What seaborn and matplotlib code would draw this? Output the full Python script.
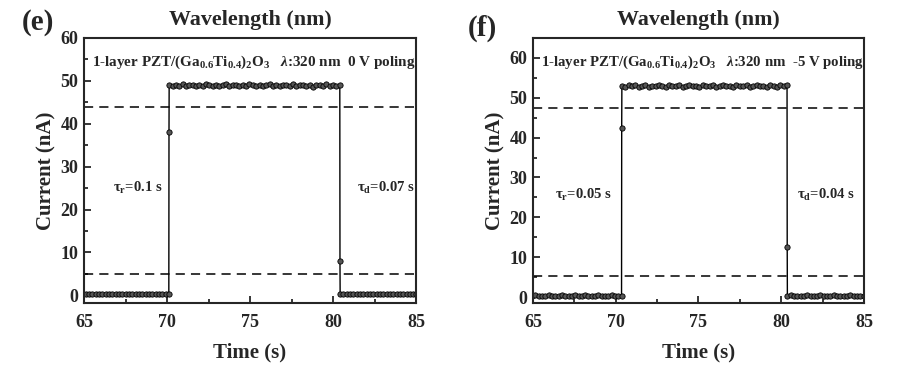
import numpy as np
import pandas as pd
import matplotlib
matplotlib.use("Agg")
import matplotlib.pyplot as plt
from matplotlib.ticker import MultipleLocator
import seaborn as sns

# ─── DATA ──────────────────────────────────────────────────────────────────────
# panel (e): 0 V poling
E_LOW1 = [0.3, 0.2, 0.4, 0.3, 0.3, 0.2, 0.4, 0.3, 0.3, 0.4, 0.2, 0.3, 0.3,
          0.4, 0.3, 0.2, 0.3, 0.4, 0.3, 0.3, 0.2, 0.4, 0.3, 0.3, 0.4, 0.3,
          0.3]
E_RISE = [38.0]
E_HIGH = [49.0, 48.8, 49.1, 48.9, 49.2, 48.7, 49.0, 49.1, 48.8, 49.0, 48.9,
          49.2, 49.0, 48.8, 49.1, 48.9, 49.0, 49.2, 48.7, 49.0, 49.1, 48.9,
          49.0, 48.8, 49.2, 49.0, 48.9, 49.1, 48.8, 49.0, 49.2, 48.9, 49.0,
          48.7, 49.1, 49.0, 48.9, 49.2, 48.8, 49.0, 49.1, 48.9, 49.0, 48.6,
          49.1, 49.0, 48.8, 49.2, 48.9, 49.0, 48.8, 49.1]
E_FALL = [8.0]
E_LOW2 = [0.4, 0.3, 0.3, 0.2, 0.4, 0.3, 0.3, 0.4, 0.2, 0.3, 0.3, 0.4,
          0.3, 0.2, 0.3, 0.4, 0.3, 0.3, 0.2, 0.4, 0.3, 0.3, 0.3, 0.3]
E_LEVELS = [44.0, 4.9]          # 90 % / 10 % guides

# panel (f): -5 V poling
F_LOW1 = [0.3, 0.4, 0.2, 0.3, 0.3, 0.4, 0.3, 0.2, 0.3, 0.4, 0.3, 0.3, 0.2,
          0.4, 0.3, 0.3, 0.4, 0.2, 0.3, 0.3, 0.4, 0.3, 0.2, 0.3, 0.4, 0.3,
          0.3, 0.3]
F_RISE = [42.5]
F_HIGH = [53.0, 52.8, 53.1, 52.9, 53.2, 52.8, 53.0, 53.1, 52.7, 53.0, 52.9,
          53.2, 53.0, 52.8, 53.1, 52.9, 53.0, 53.2, 52.8, 53.0, 53.1, 52.9,
          53.0, 52.7, 53.2, 53.0, 52.9, 53.1, 52.8, 53.0, 53.2, 52.9, 53.0,
          52.8, 53.1, 53.0, 52.9, 53.2, 52.8, 53.0, 53.1, 52.9, 53.0, 52.7,
          53.1, 53.0, 52.8, 53.2, 52.9, 53.1]
F_FALL = [12.5]
F_LOW2 = [0.3, 0.4, 0.3, 0.2, 0.3, 0.3, 0.4, 0.3, 0.2, 0.3, 0.4, 0.3,
          0.3, 0.2, 0.4, 0.3, 0.3, 0.3, 0.2, 0.4, 0.3, 0.3, 0.3, 0.3]
F_LEVELS = [47.5, 5.3]

# light on / light off instants (s) and sampling step
E_SWITCH = (70.12, 80.42)
F_SWITCH = (70.36, 80.36)
STEP = 0.2

PANELS = [
    dict(poling="0 V poling", low1=E_LOW1, rise=E_RISE, high=E_HIGH,
         fall=E_FALL, low2=E_LOW2, sw=E_SWITCH, levels=E_LEVELS,
         tr="0.1 s", td="0.07 s", ylim=(-1.8, 60), trx=66.75, tdx=81.45,
         ty=25.0, fs=10.9),
    dict(poling="-5 V poling", low1=F_LOW1, rise=F_RISE, high=F_HIGH,
         fall=F_FALL, low2=F_LOW2, sw=F_SWITCH, levels=F_LEVELS,
         tr="0.05 s", td="0.04 s", ylim=(-1.5, 65), trx=66.3, tdx=80.95,
         ty=25.6, fs=10.7),
]


def build_frame(p):
    t_on, t_off = p["sw"]
    n1, nh, n2 = len(p["low1"]), len(p["high"]), len(p["low2"])
    # plateau samples spread over the whole light-on window
    parts = [
        (t_on - 0.01 - STEP * np.arange(n1)[::-1], p["low1"]),
        (np.array([t_on]), p["rise"]),
        (np.linspace(t_on + 0.01, t_off - 0.01, nh), p["high"]),
        (np.array([t_off]), p["fall"]),
        (t_off + 0.01 + STEP * np.arange(n2), p["low2"]),
    ]
    time = np.concatenate([a for a, _ in parts])
    cur = np.concatenate([np.asarray(b, float) for _, b in parts])
    return pd.DataFrame({"time": time, "current": cur})


# ─── STYLE ─────────────────────────────────────────────────────────────────────
sns.set_theme(style="ticks")
plt.rcParams["font.family"] = ["Liberation Serif", "DejaVu Serif"]
plt.rcParams["font.weight"] = "bold"
plt.rcParams["mathtext.fontset"] = "custom"
plt.rcParams["mathtext.rm"] = "Liberation Serif:bold"
plt.rcParams["mathtext.it"] = "Liberation Serif:italic:bold"
plt.rcParams["mathtext.bf"] = "Liberation Serif:bold"
plt.rcParams["axes.linewidth"] = 1.5

fig = plt.figure(figsize=(9.04, 3.66), dpi=100)
axes = [fig.add_axes([84 / 904, 1 - 303 / 366, 332 / 904, 265 / 366]),
        fig.add_axes([533 / 904, 1 - 303 / 366, 331 / 904, 265 / 366])]

for ax, p in zip(axes, PANELS):
    df = build_frame(p)
    sns.lineplot(data=df, x="time", y="current", ax=ax, color="black",
                 linewidth=1.0, marker="o", markersize=3.8,
                 markerfacecolor="#555555", markeredgecolor="black",
                 markeredgewidth=0.6, sort=False, estimator=None)
    for lv in p["levels"]:
        ax.axhline(lv, color="black", linestyle=(0, (6, 4)), linewidth=1.1)

    ax.set_xlim(65, 85)
    ax.set_ylim(*p["ylim"])
    ax.xaxis.set_major_locator(MultipleLocator(5))
    ax.xaxis.set_minor_locator(MultipleLocator(2.5))
    ax.yaxis.set_major_locator(MultipleLocator(10))
    ax.yaxis.set_minor_locator(MultipleLocator(5))
    ax.tick_params(which="both", direction="in", width=1.3, labelsize=13,
                   top=False, right=False)
    ax.tick_params(which="major", length=5)
    ax.tick_params(which="minor", length=3)
    ax.tick_params(axis="x", pad=8)
    ax.tick_params(axis="y", pad=4)
    for lab in ax.get_xticklabels() + ax.get_yticklabels():
        lab.set_fontweight("bold")

    ax.set_xlabel("Time (s)", fontsize=15, fontweight="bold", labelpad=8)
    ax.set_ylabel("Current (nA)", fontsize=15, fontweight="bold", labelpad=3)
    ax.set_title("Wavelength (nm)", fontsize=15.8, fontweight="bold", pad=9)

    ax.text(0.025, 0.909,
            r"1-layer PZT/(Ga$_{0.6}$Ti$_{0.4}$)$_2$O$_3$   $\lambda$:320 nm  "
            + p["poling"],
            transform=ax.transAxes, fontsize=p["fs"], fontweight="bold",
            va="center", ha="left")
    ax.text(p["trx"], p["ty"], r"τ$_{\rm r}$=" + p["tr"], fontsize=10.5,
            fontweight="bold", va="center")
    ax.text(p["tdx"], p["ty"], r"τ$_{\rm d}$=" + p["td"], fontsize=10.5,
            fontweight="bold", va="center")

fig.text(22 / 904, 1 - 22 / 366, "(e)", fontsize=21, fontweight="bold",
         va="center")
fig.text(468 / 904, 1 - 28 / 366, "(f)", fontsize=21, fontweight="bold",
         va="center")

fig.savefig("out.png", dpi=100)
